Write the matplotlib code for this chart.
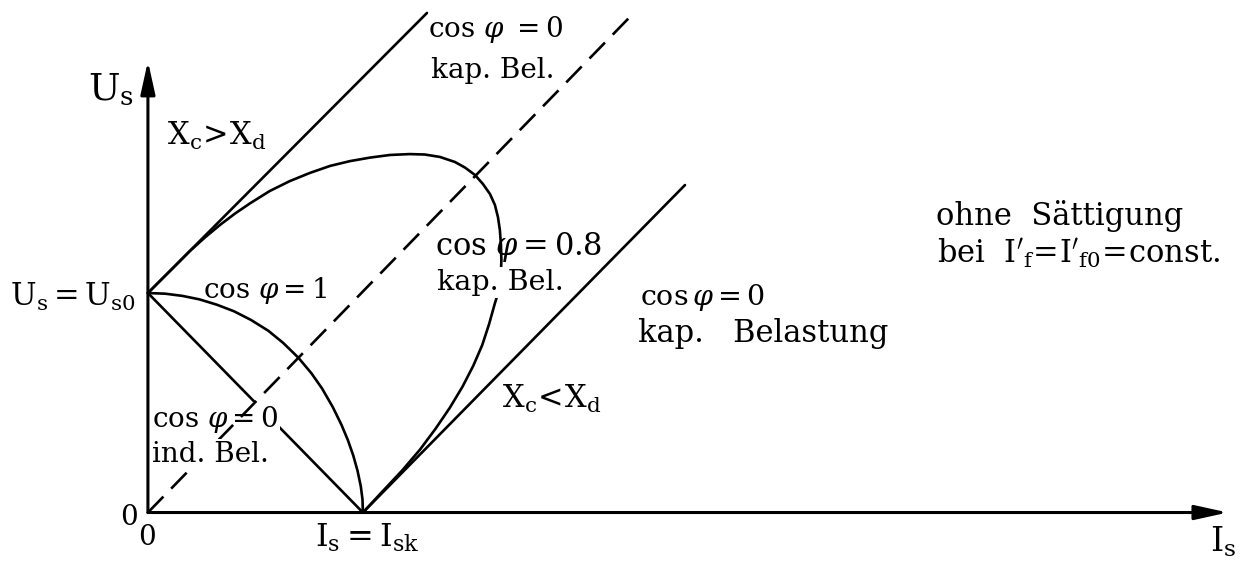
import matplotlib
matplotlib.use("Agg")
import matplotlib.pyplot as plt

plt.rcParams["font.family"] = ["DejaVu Serif"]
plt.rcParams["mathtext.fontset"] = "dejavuserif"
plt.rcParams["lines.scale_dashes"] = False

# Normalised quantities: current I_s / I_sk, voltage U_s / U_s0
# cos(phi) = 0, capacitive load, X_c > X_d (starts at U_s0)
cap_upper_I = [0.0, 1.298]
cap_upper_U = [1.0, 2.276]

# cos(phi) = 0, capacitive load (dashed reference through the origin)
cap_ref_I = [0.0, 2.237]
cap_ref_U = [0.0, 2.253]

# cos(phi) = 0, capacitive load, X_c < X_d (starts at I_sk)
cap_lower_I = [1.0, 2.498]
cap_lower_U = [0.0, 1.492]

# cos(phi) = 0, inductive load
ind_I = [0.0, 1.0]
ind_U = [1.0, 0.0]

# cos(phi) = 1
pf1_I = [0.0, 0.08, 0.16, 0.24, 0.32, 0.40, 0.48, 0.56, 0.63, 0.70, 0.76,
         0.81, 0.86, 0.90, 0.93, 0.955, 0.975, 0.99, 0.998, 1.0]
pf1_U = [1.0, 0.997, 0.987, 0.971, 0.947, 0.917, 0.877, 0.828, 0.772, 0.705,
         0.635, 0.565, 0.480, 0.400, 0.330, 0.260, 0.190, 0.120, 0.060, 0.0]

# cos(phi) = 0.8, capacitive load
pf08_I = [0.0, 0.056, 0.126, 0.195, 0.265, 0.335, 0.405, 0.474, 0.567, 0.660,
          0.753, 0.847, 0.940, 1.033, 1.126, 1.219, 1.288, 1.358, 1.428,
          1.474, 1.521, 1.558, 1.591, 1.614, 1.628, 1.637, 1.642, 1.644,
          1.642, 1.635, 1.626, 1.614, 1.587, 1.555, 1.513, 1.463, 1.404,
          1.338, 1.265, 1.182, 1.090, 1.0]
pf08_U = [1.0, 1.055, 1.123, 1.191, 1.253, 1.310, 1.362, 1.408, 1.465, 1.510,
          1.547, 1.579, 1.601, 1.617, 1.629, 1.633, 1.631, 1.620, 1.597,
          1.572, 1.538, 1.497, 1.451, 1.401, 1.346, 1.287, 1.219, 1.150,
          1.096, 1.037, 0.991, 0.954, 0.859, 0.763, 0.668, 0.573, 0.477,
          0.382, 0.286, 0.191, 0.095, 0.0]

fig = plt.figure(figsize=(12.47, 5.63), dpi=100)
ax = fig.add_axes([0, 0, 1, 1])
ax.set_xlim(-0.688, 5.112)
ax.set_ylim(-0.230, 2.335)
ax.axis("off")

lw = 1.9
line_kw = dict(color="k", lw=lw, solid_joinstyle="round", solid_capstyle="round")
ax.plot(cap_upper_I, cap_upper_U, zorder=2, **line_kw)
ax.plot(cap_lower_I, cap_lower_U, zorder=2, **line_kw)
ax.plot(ind_I, ind_U, zorder=2, **line_kw)
ax.plot(pf1_I, pf1_U, zorder=2, **line_kw)
ax.plot(pf08_I, pf08_U, zorder=2, **line_kw)
ax.plot(cap_ref_I, cap_ref_U, color="k", lw=lw, dashes=(16, 8), zorder=4)

# coordinate axes with arrow heads
arrow = dict(arrowstyle="-|>,head_length=1.0,head_width=0.22", lw=2.2,
             color="k", shrinkA=0, shrinkB=0, mutation_scale=20)
ax.annotate("", xy=(5.023, 0), xytext=(0, 0), arrowprops=arrow, zorder=5)
ax.annotate("", xy=(0, 2.057), xytext=(0, 0), arrowprops=arrow, zorder=5)

white = dict(facecolor="white", edgecolor="none", pad=1.5)
kw = dict(ha="left", va="baseline", color="k")

ax.text(-0.279, 1.879, r"$\mathrm{U_s}$", fontsize=27, **kw)
ax.text(0.088, 1.674, r"$\mathrm{X_c\!>\!X_d}$", fontsize=22, **kw)
ax.text(1.302, 2.166, r"$\mathrm{cos}\ \varphi\ \mathrm{=0}$", fontsize=20, **kw)
ax.text(1.316, 1.979, "kap. Bel.", fontsize=20, **kw)
ax.text(0.256, 0.977, r"$\mathrm{cos}\ \varphi\mathrm{=1}$", fontsize=20, **kw)
ax.text(-0.642, 0.941, r"$\mathrm{U_s=U_{s0}}$", fontsize=22, **kw)
ax.text(-0.130, -0.057, "0", fontsize=20, **kw)
ax.text(-0.047, -0.148, "0", fontsize=20, **kw)
ax.text(0.019, 0.390, r"$\mathrm{cos}\ \varphi\mathrm{=0}$", fontsize=20,
        bbox=white, zorder=3, **kw)
ax.text(0.019, 0.230, "ind. Bel.", fontsize=20, bbox=white, zorder=6, **kw)
ax.text(0.777, -0.157, r"$\mathrm{I_s=I_{sk}}$", fontsize=23, **kw)
ax.text(1.335, 1.173, r"$\mathrm{cos}\ \varphi\mathrm{=0.8}$", fontsize=22, **kw)
ax.text(1.344, 1.014, "kap. Bel.", fontsize=20.5, bbox=white, zorder=6, **kw)
ax.text(2.288, 0.945, r"$\mathrm{cos}\,\varphi\mathrm{=0}$", fontsize=20.5, **kw)
ax.text(2.279, 0.777, "kap.   Belastung", fontsize=22, **kw)
ax.text(1.647, 0.476, r"$\mathrm{X_c\!<\!X_d}$", fontsize=22, **kw)
ax.text(3.665, 1.310, "ohne  Sättigung", fontsize=22, **kw)
ax.text(3.670, 1.141, r"bei  $\mathrm{I'_f\!=\!I'_{f0}\!=\!const.}$", fontsize=22, **kw)
ax.text(4.940, -0.180, r"$\mathrm{I_s}$", fontsize=24, **kw)

fig.savefig("out.png", dpi=100)
